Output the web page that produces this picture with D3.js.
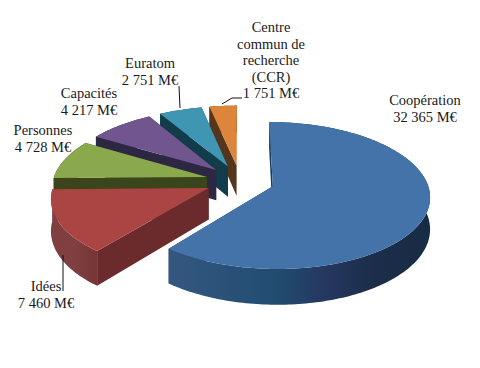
<!DOCTYPE html>
<html>
<head>
<meta charset="utf-8">
<script src="https://cdn.jsdelivr.net/npm/d3@7"></script>
<style>
  html, body { margin: 0; padding: 0; background: #fff; }
  svg { display: block; }
  text { font-family: "Liberation Serif", serif; font-size: 14.5px; fill: #1a1a1a; text-anchor: middle; }
</style>
</head>
<body>
<div id="chart"></div>
<script>
const categories = ["Coopération", "Idées", "Personnes", "Capacités", "Euratom", "Centre commun de recherche (CCR)"];
const values = [32365, 7460, 4728, 4217, 2751, 1751];

const topColours = ["#4473a9", "#ab4544", "#8aa84c", "#70558f", "#3f96b3", "#dd853b"];
const faceColours = ["#1b3a5c", "#6b2a2b", "#3a451c", "#2c2742", "#123c4a", "#55351b"];
const rimStops = [
  ["#35577f", "#2b5279", "#214d71", "#25375f", "#1b2d48", "#182b45"],
  ["#7f3e3f", "#803f40", "#763536"],
  ["#3a451c", "#3a451c"],
  ["#2c2742", "#2c2742"],
  ["#123c4a", "#123c4a"],
  ["#55351b", "#55351b"]
];

// label layout: centre x, first baseline, line step
const labelLines = [
  ["Coopération"],
  ["Idées"],
  ["Personnes"],
  ["Capacités"],
  ["Euratom"],
  ["Centre", "commun de", "recherche", "(CCR)"]
];
const labelPos = [[425, 105], [46, 291], [43, 135], [89, 98], [150, 68], [271, 32]];
const leaders = [
  null,
  [[63, 255], [63, 291]],
  null,
  null,
  [[179, 86], [180, 108]],
  [[242, 98], [232, 98], [222, 104]]
];

const width = 480, height = 368;

// perspective of the pie plane
const cx = 240, cy = 181, rx = 154, ry = 71, k = 0.124, depth = 31, explode = 0.224;

function project(u, v, z) {
  const s = 1 / (1 + k * v);
  return [cx + rx * u * s, cy - ry * v * s + z * depth * s];
}

const svg = d3.select("#chart").append("svg")
    .attr("width", width)
    .attr("height", height);

const defs = svg.append("defs");

const arcs = d3.pie().sort(null)(values);
const line = d3.line();
const fr = d3.formatLocale({ decimal: ",", thousands: " ", grouping: [3], currency: ["", " M€"] }).format(",d");

// back slices first, the big front slice last
arcs.map((d, i) => [d, i]).reverse().forEach(function([d, i]) {
  const mid = (d.startAngle + d.endAngle) / 2,
        ou = explode * Math.sin(mid),
        ov = explode * Math.cos(mid);

  const rim = function(a, z) {
    return project(ou + Math.sin(a), ov + Math.cos(a), z);
  };
  const angles = d3.range(d.startAngle, d.endAngle, 0.02).concat(d.endAngle);

  const g = svg.append("g").attr("class", "slice");

  const grad = defs.append("linearGradient").attr("id", "rim" + i);
  rimStops[i].forEach(function(c, j) {
    grad.append("stop")
        .attr("offset", j / (rimStops[i].length - 1))
        .attr("stop-color", c);
  });

  const apexTop = project(ou, ov, 0),
        apexBottom = project(ou, ov, 1);

  // the two cut faces
  [d.endAngle, d.startAngle].forEach(function(a) {
    g.append("path")
        .attr("d", line([apexTop, rim(a, 0), rim(a, 1), apexBottom]) + "Z")
        .attr("fill", faceColours[i]);
  });

  // outer wall
  g.append("path")
      .attr("d", line(angles.map(a => rim(a, 0)).concat(angles.slice().reverse().map(a => rim(a, 1)))) + "Z")
      .attr("fill", "url(#rim" + i + ")");

  // top
  g.append("path")
      .attr("d", line([apexTop].concat(angles.map(a => rim(a, 0)))) + "Z")
      .attr("fill", topColours[i]);
});

leaders.forEach(function(pts) {
  if (!pts) return;
  svg.append("path")
      .attr("d", line(pts))
      .attr("fill", "none")
      .attr("stroke", "#111")
      .attr("stroke-width", 1);
});

categories.forEach(function(name, i) {
  const lines = labelLines[i].concat(fr(values[i]) + " M€"),
        step = 16.5;
  const t = svg.append("text")
      .attr("class", "label")
      .attr("aria-label", name);
  lines.forEach(function(s, j) {
    t.append("tspan")
        .attr("x", labelPos[i][0])
        .attr("y", labelPos[i][1] + j * step)
        .text(s);
  });
});
</script>
</body>
</html>
